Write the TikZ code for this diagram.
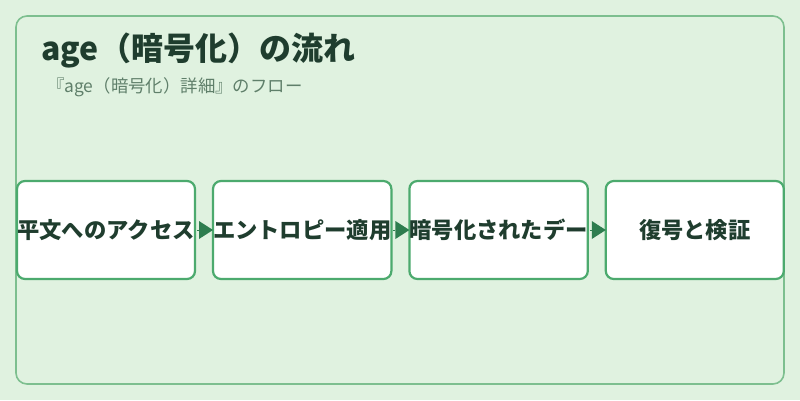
\documentclass[tikz,border=0pt]{standalone}
\usepackage{fontspec}
\setmainfont{Noto Sans CJK JP}
\usetikzlibrary{positioning}
\usetikzlibrary{chains}
\usetikzlibrary{arrows.meta}
\definecolor{bgcol}{HTML}{E0F2E0}
\definecolor{framecol}{HTML}{7DBF8F}
\definecolor{boxcol}{HTML}{4CAA6E}
\definecolor{arrowcol}{HTML}{2E7D4F}
\definecolor{titlecol}{HTML}{1F3D2E}
\definecolor{subcol}{HTML}{5F7F6A}
\begin{document}
\begin{tikzpicture}[x=1pt,y=-1pt,
        node distance = 18pt,
        start chain = going right,
        box/.style = {draw=boxcol,line width=2.2pt,rounded corners=8pt,fill=white,
            on chain,align=center,inner sep=0pt,outer sep=0pt,
            minimum width=178pt,minimum height=98pt,
            font=\fontsize{22.3pt}{25pt}\selectfont\bfseries,text=titlecol},
        flow/.style = {color=arrowcol,line width=0.1pt,
            -{Triangle[length=14pt,width=18pt,line width=0pt]},
            shorten <=2pt}]
    \fill[bgcol] (0,0) rectangle (800,400);
    \useasboundingbox (0,0) rectangle (800,400);
    \draw[framecol,line width=1.6pt,rounded corners=11pt] (16,16) rectangle (784,384);
    \node[anchor=base west,text=titlecol,font=\fontsize{32pt}{36pt}\selectfont\bfseries]
        (title) at (38,60) {age（暗号化）の流れ};
    \node[anchor=base west,text=subcol,font=\fontsize{17.4pt}{20pt}\selectfont,inner xsep=0pt]
        (subtitle) at (47,92) {『age（暗号化）詳細』のフロー};
    \coordinate (start) at (17,230);
    \node[box,right=0pt of start](b1) {平文へのアクセス};
    \node[box](b2) {エントロピー適用};
    \node[box](b3) {暗号化されたデー};
    \node[box](b4) {復号と検証};
    \path
        (b1) edge[flow] (b2)
        (b2) edge[flow] (b3)
        (b3) edge[flow] (b4);
\end{tikzpicture}
\end{document}
